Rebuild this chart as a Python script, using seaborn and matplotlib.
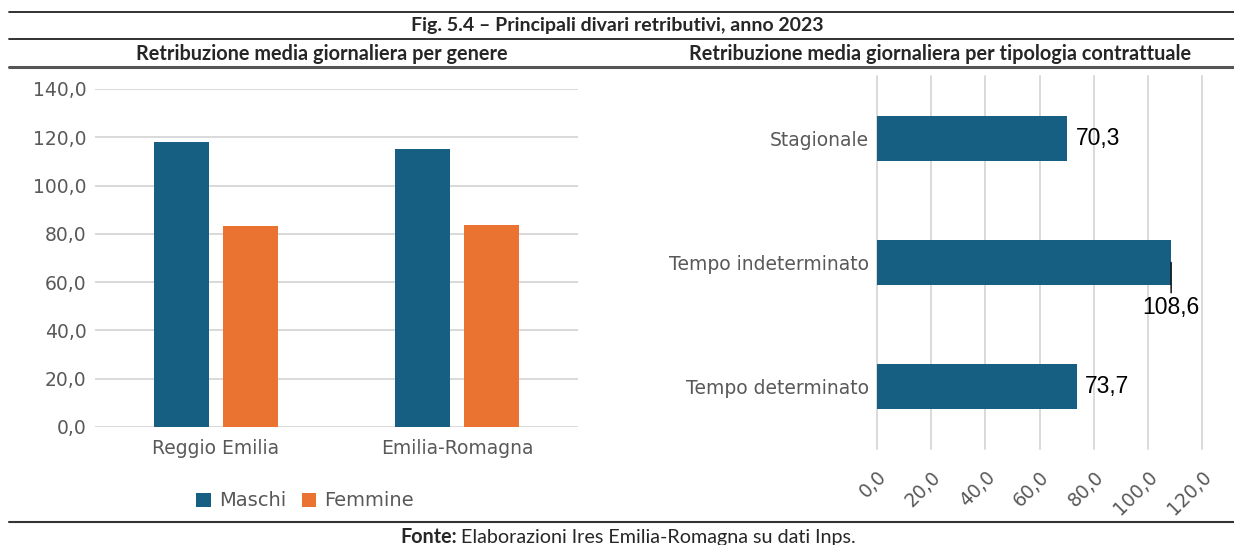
import pandas as pd
import matplotlib
matplotlib.use("Agg")
import matplotlib.pyplot as plt
from matplotlib.lines import Line2D
from matplotlib.ticker import FuncFormatter, MultipleLocator
import seaborn as sns

# dati
aree = ['Reggio Emilia', 'Emilia-Romagna']
maschi = [118.0, 115.2]
femmine = [83.3, 83.6]

tipologie = ['Stagionale', 'Tempo indeterminato', 'Tempo determinato']
retrib_tipo = [70.3, 108.6, 73.7]

titolo = 'Fig. 5.4 – Principali divari retributivi, anno 2023'
sottotitolo_sx = 'Retribuzione media giornaliera per genere'
sottotitolo_dx = 'Retribuzione media giornaliera per tipologia contrattuale'
fonte = 'Elaborazioni Ires Emilia-Romagna su dati Inps.'

BLU = '#175f82'
ARANCIO = '#eb7331'
GRIGIO_TESTO = '#595959'
GRIGLIA = '#d9d9d9'

sns.set_style('white')
plt.rcParams['font.family'] = ['DejaVu Sans']

df_genere = pd.DataFrame({
    'area': aree * 2,
    'valore': maschi + femmine,
    'sesso': ['Maschi'] * len(aree) + ['Femmine'] * len(aree),
})
df_tipo = pd.DataFrame({'tipologia': tipologie, 'valore': retrib_tipo})

W, H = 1234, 545
fig = plt.figure(figsize=(W / 100, H / 100), dpi=100)

def fx(px):
    return px / W

def fy(px):
    return 1 - px / H

virgola = FuncFormatter(lambda v, p: f'{v:.1f}'.replace('.', ','))

# --- grafico per genere ---
ax1 = fig.add_axes([fx(95), fy(427), fx(578 - 95), (427 - 89) / H])
sns.barplot(data=df_genere, x='area', y='valore', hue='sesso',
            palette=[BLU, ARANCIO], width=0.571, gap=0.2, saturation=1,
            linewidth=0, ax=ax1)
ax1.set_xlim(-0.5, 1.5)
ax1.set_ylim(0, 140)
ax1.yaxis.set_major_locator(MultipleLocator(20))
ax1.yaxis.set_major_formatter(virgola)
ax1.yaxis.grid(True, color=GRIGLIA, lw=1.4)
ax1.set_axisbelow(True)
sns.despine(ax=ax1, left=True, bottom=True)
ax1.set_xlabel('')
ax1.set_ylabel('')
ax1.tick_params(axis='both', length=0, labelsize=13.5, colors=GRIGIO_TESTO)
ax1.tick_params(axis='y', pad=6)
ax1.tick_params(axis='x', pad=9)
handles, labels = ax1.get_legend_handles_labels()
ax1.get_legend().remove()
fig.legend(handles, labels, loc='center', bbox_to_anchor=(fx(305), fy(501)),
           ncol=2, frameon=False, fontsize=14, labelcolor=GRIGIO_TESTO,
           handlelength=0.75, handleheight=0.75, handletextpad=0.4,
           columnspacing=0.8)

# --- grafico per tipologia ---
ax2 = fig.add_axes([fx(877), fy(449), fx(1202 - 877), (449 - 76) / H])
sns.barplot(data=df_tipo, x='valore', y='tipologia', color=BLU,
            width=0.363, orient='h', saturation=1, linewidth=0, ax=ax2)
ax2.set_xlim(0, 120)
ax2.xaxis.set_major_locator(MultipleLocator(20))
ax2.xaxis.set_major_formatter(virgola)
ax2.xaxis.grid(True, color=GRIGLIA, lw=1.4, clip_on=False)
ax2.set_axisbelow(True)
sns.despine(ax=ax2, left=True, bottom=True)
ax2.set_xlabel('')
ax2.set_ylabel('')
ax2.tick_params(axis='both', length=0, labelsize=13.5, colors=GRIGIO_TESTO)
ax2.tick_params(axis='y', pad=6)
ax2.tick_params(axis='x', pad=13)
for lab in ax2.get_xticklabels():
    lab.set_rotation(45)
    lab.set_ha('right')
    lab.set_va('top')
    lab.set_rotation_mode('anchor')

for i, v in enumerate(retrib_tipo):
    testo = f'{v:.1f}'.replace('.', ',')
    if v > 100:
        ax2.annotate(testo, xy=(v, i), xytext=(v, i + 0.27),
                     ha='center', va='top', fontsize=16.5,
                     family='Liberation Sans', color='black',
                     arrowprops=dict(arrowstyle='-', color='black', lw=1,
                                     shrinkA=0, shrinkB=0),
                     annotation_clip=False)
    else:
        ax2.text(v + 3, i, testo, ha='left', va='center', fontsize=16.5,
                 family='Liberation Sans', color='black')

# --- titoli, linee e fonte ---
fig.add_artist(Line2D([fx(9), 1], [fy(12)] * 2, color='#222222', lw=1.3))
fig.add_artist(Line2D([fx(9), 1], [fy(39)] * 2, color='#222222', lw=1.3))
fig.add_artist(Line2D([fx(9), 1], [fy(67)] * 2, color='#555555', lw=2.2))
fig.add_artist(Line2D([fx(9), 1], [fy(522)] * 2, color='#333333', lw=1.5))

fig.text(fx(617), fy(26), titolo, ha='center', va='center',
         fontsize=14, fontweight='bold', family='Lato')
fig.text(fx(322), fy(54), sottotitolo_sx, ha='center', va='center',
         fontsize=14.3, fontweight='bold', family='Lato')
fig.text(fx(940), fy(54), sottotitolo_dx, ha='center', va='center',
         fontsize=14.3, fontweight='bold', family='Lato')
fig.text(fx(457), fy(537), 'Fonte:', ha='right', va='center',
         fontsize=14.2, fontweight='bold', family='Lato')
fig.text(fx(461), fy(537), fonte, ha='left', va='center',
         fontsize=14.2, family='Lato')

fig.savefig('out.png', dpi=100)
